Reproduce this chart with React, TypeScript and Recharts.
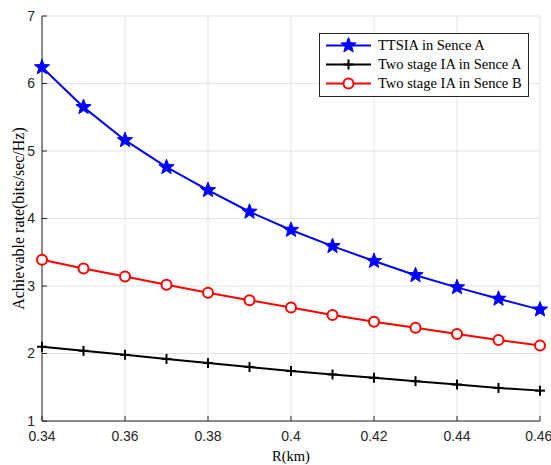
import { LineChart, Line, XAxis, YAxis, CartesianGrid, Legend } from "recharts";

const radius = [0.34, 0.35, 0.36, 0.37, 0.38, 0.39, 0.4, 0.41, 0.42, 0.43, 0.44, 0.45, 0.46];
const ttsiaA = [6.24, 5.65, 5.16, 4.76, 4.42, 4.1, 3.83, 3.59, 3.37, 3.16, 2.98, 2.81, 2.65];
const twoStageA = [2.1, 2.04, 1.98, 1.92, 1.86, 1.8, 1.74, 1.69, 1.64, 1.59, 1.54, 1.49, 1.45];
const twoStageB = [3.39, 3.26, 3.14, 3.02, 2.9, 2.79, 2.68, 2.57, 2.47, 2.38, 2.29, 2.2, 2.12];

const xTicks = [0.34, 0.36, 0.38, 0.4, 0.42, 0.44, 0.46];
const yTicks = [1, 2, 3, 4, 5, 6, 7];

const seriesNames = ["TTSIA in Sence A", "Two stage IA in Sence A", "Two stage IA in Sence B"];

const data = radius.map((r, i) => ({
  r,
  a: ttsiaA[i],
  b: twoStageA[i],
  c: twoStageB[i],
}));

const SERIF = "'Liberation Serif', 'Times New Roman', serif";
const SANS = "'Liberation Sans', Arial, sans-serif";

const starPoints = (cx: number, cy: number, ro: number, ri: number) => {
  const pts: string[] = [];
  for (let k = 0; k < 10; k++) {
    const ang = -Math.PI / 2 + (k * Math.PI) / 5;
    const rr = k % 2 === 0 ? ro : ri;
    pts.push(`${cx + rr * Math.cos(ang)},${cy + rr * Math.sin(ang)}`);
  }
  return pts.join(" ");
};

const Star = ({ cx, cy }: any) =>
  cx == null ? null : <polygon points={starPoints(cx, cy, 8, 3.4)} fill="#0000ff" stroke="#0000ff" strokeWidth={1} />;

const Plus = ({ cx, cy }: any) =>
  cx == null ? null : (
    <g stroke="#000" strokeWidth={2}>
      <line x1={cx - 5} y1={cy} x2={cx + 5} y2={cy} />
      <line x1={cx} y1={cy - 5} x2={cx} y2={cy + 5} />
    </g>
  );

const Circ = ({ cx, cy }: any) =>
  cx == null ? null : <circle cx={cx} cy={cy} r={5} fill="#fff" stroke="#ff0000" strokeWidth={2} />;

const markers = [Star, Plus, Circ];
const colors = ["#0000ff", "#000000", "#ff0000"];

const LegendBox = () => (
  <div
    style={{
      border: "1px solid #262626",
      background: "#fff",
      padding: "2px 6px 3px 5px",
      fontFamily: SERIF,
      fontSize: 14.5,
      lineHeight: "19px",
      color: "#000",
      textAlign: "left",
    }}
  >
    {seriesNames.map((name, i) => {
      const M = markers[i];
      return (
        <div key={name} style={{ display: "flex", alignItems: "center" }}>
          <svg width={48} height={19} style={{ marginRight: 5 }}>
            <line x1={1} y1={9.5} x2={46} y2={9.5} stroke={colors[i]} strokeWidth={2} />
            <M cx={23.5} cy={9.5} />
          </svg>
          <span>{name}</span>
        </div>
      );
    })}
  </div>
);

const noTick = () => <g />;

export default function App() {
  return (
    <div style={{ position: "absolute", left: 0, top: 0, background: "#fff" }}>
      <LineChart width={551} height={465} data={data} margin={{ top: 16, right: 11, bottom: 0, left: 0 }}>
        <CartesianGrid stroke="#e3e3e3" strokeWidth={1} xAxisId="x" yAxisId="y" />
        <XAxis
          xAxisId="x"
          dataKey="r"
          type="number"
          domain={[0.34, 0.46]}
          ticks={xTicks}
          tickFormatter={(v: number) => String(+v.toFixed(2))}
          height={44}
          stroke="#262626"
          tickSize={-5}
          tickMargin={15}
          tick={{ fill: "#262626", fontSize: 14, fontFamily: SANS }}
          label={{
            content: ({ viewBox }: any) => (
              <text
                x={viewBox.x + viewBox.width / 2}
                y={viewBox.y + 40}
                textAnchor="middle"
                fontFamily={SERIF}
                fontSize={14.5}
                fill="#000"
              >
                R(km)
              </text>
            ),
          }}
        />
        <XAxis
          xAxisId="top"
          dataKey="r"
          type="number"
          orientation="top"
          domain={[0.34, 0.46]}
          ticks={xTicks}
          height={0}
          stroke="#262626"
          tickSize={-5}
          tick={noTick}
        />
        <YAxis
          yAxisId="y"
          type="number"
          domain={[1, 7]}
          ticks={yTicks}
          width={42}
          stroke="#262626"
          tickSize={-5}
          tickMargin={12}
          tick={{ fill: "#262626", fontSize: 14, fontFamily: SANS }}
          label={{
            content: ({ viewBox }: any) => {
              const cx = viewBox.x + 18;
              const cy = viewBox.y + viewBox.height / 2;
              return (
                <text
                  x={cx}
                  y={cy}
                  transform={`rotate(-90 ${cx} ${cy})`}
                  textAnchor="middle"
                  dominantBaseline="central"
                  fontFamily={SERIF}
                  fontSize={16}
                  fill="#000"
                >
                  Achievable rate(bits/sec/Hz)
                </text>
              );
            },
          }}
        />
        <YAxis
          yAxisId="right"
          orientation="right"
          type="number"
          domain={[1, 7]}
          ticks={yTicks}
          width={0}
          stroke="#262626"
          tickSize={-5}
          tick={noTick}
        />
        <Legend
          layout="horizontal"
          verticalAlign="middle"
          align="center"
          content={<LegendBox />}
          wrapperStyle={{ position: "absolute", top: 33, left: 319, width: "auto", height: "auto" }}
        />
        <Line
          xAxisId="x"
          yAxisId="y"
          dataKey="a"
          name={seriesNames[0]}
          stroke="#0000ff"
          strokeWidth={2}
          dot={<Star />}
          isAnimationActive={false}
        />
        <Line
          xAxisId="x"
          yAxisId="y"
          dataKey="b"
          name={seriesNames[1]}
          stroke="#000000"
          strokeWidth={2}
          dot={<Plus />}
          isAnimationActive={false}
        />
        <Line
          xAxisId="x"
          yAxisId="y"
          dataKey="c"
          name={seriesNames[2]}
          stroke="#ff0000"
          strokeWidth={2}
          dot={<Circ />}
          isAnimationActive={false}
        />
      </LineChart>
    </div>
  );
}
